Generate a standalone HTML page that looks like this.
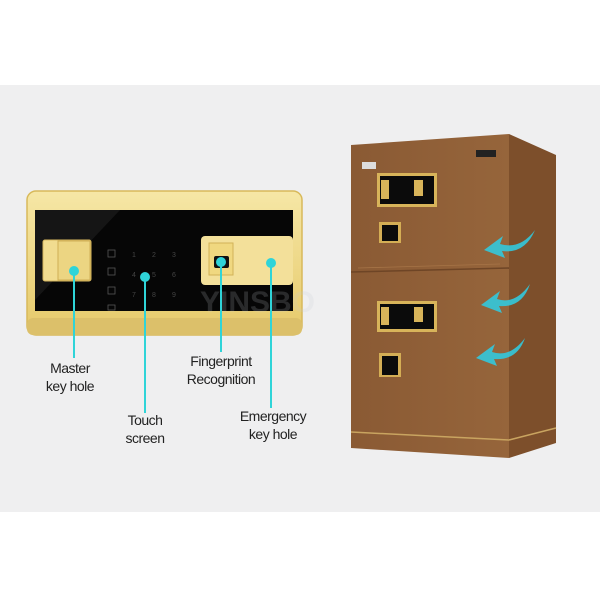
<!DOCTYPE html>
<html><head><meta charset="utf-8"><style>
html,body{margin:0;padding:0;background:#fff;width:600px;height:600px;overflow:hidden}
svg{display:block}
text{font-family:"Liberation Sans",sans-serif}
</style></head><body>
<svg width="600" height="600" viewBox="0 0 600 600">
<defs>
<linearGradient id="gold" x1="0" y1="0" x2="0" y2="1">
<stop offset="0" stop-color="#f6e7a6"/><stop offset="1" stop-color="#e6c96a"/></linearGradient>
<linearGradient id="front" x1="0" y1="0" x2="1" y2="0">
<stop offset="0" stop-color="#8a5a34"/><stop offset="1" stop-color="#96653b"/></linearGradient>
</defs>
<rect x="0" y="85" width="600" height="427" fill="#efeff0"/>
<!-- panel -->
<rect x="27" y="191" width="275" height="144" rx="9" fill="url(#gold)" stroke="#d8b95a" stroke-width="1.5"/>
<rect x="27" y="318" width="275" height="17" rx="6" fill="#dcc06a"/>
<rect x="35" y="210" width="258" height="101" fill="#060606"/>
<path d="M35 210 L120 210 L35 300 Z" fill="#151515"/>
<rect x="201" y="236" width="92" height="49" rx="4" fill="#f3e09a"/>
<rect x="43" y="240" width="48" height="41" rx="2" fill="#f1dc90" stroke="#d7b860"/>
<rect x="58" y="241" width="32" height="39" fill="#ecd582" stroke="#cfae55"/>
<rect x="209" y="243" width="24" height="32" fill="#f0d880" stroke="#d2b258"/>
<rect x="214" y="256" width="15" height="12" rx="2" fill="#111"/>
<g fill="#444" font-size="7">
<text x="132" y="257">1</text><text x="152" y="257">2</text><text x="172" y="257">3</text>
<text x="132" y="277">4</text><text x="152" y="277">5</text><text x="172" y="277">6</text>
<text x="132" y="297">7</text><text x="152" y="297">8</text><text x="172" y="297">9</text>
</g>
<g fill="none" stroke="#555" stroke-width="0.8">
<rect x="108" y="250" width="7" height="7"/><rect x="108" y="268" width="7" height="7"/><rect x="108" y="287" width="7" height="7"/><rect x="108" y="305" width="7" height="5"/></g>
<text x="200" y="312" font-size="30" fill="#c8cbd3" opacity="0.18" font-weight="bold">YINSBO</text>
<!-- callouts -->
<g stroke="#2fd4d8" stroke-width="2">
<line x1="74" y1="271" x2="74" y2="358"/><line x1="145" y1="277" x2="145" y2="413"/>
<line x1="221" y1="262" x2="221" y2="352"/><line x1="271" y1="263" x2="271" y2="408"/></g>
<g fill="#2fd4d8"><circle cx="74" cy="271" r="5"/><circle cx="145" cy="277" r="5"/><circle cx="221" cy="262" r="5"/><circle cx="271" cy="263" r="5"/></g>
<g font-size="14" fill="#222" text-anchor="middle" letter-spacing="-0.5">
<text x="70" y="373">Master</text><text x="70" y="391">key hole</text>
<text x="145" y="425">Touch</text><text x="145" y="443">screen</text>
<text x="221" y="366">Fingerprint</text><text x="221" y="384">Recognition</text>
<text x="273" y="421">Emergency</text><text x="273" y="439">key hole</text></g>
<!-- safe -->
<polygon points="509,134 556,155 556,443 509,458" fill="#7d4f2b"/>
<polygon points="351,145 509,134 509,458 351,448" fill="url(#front)"/>
<line x1="351" y1="272" x2="509" y2="268" stroke="#6e4526" stroke-width="1.5"/>
<line x1="358" y1="268" x2="500" y2="264" stroke="#a67447" stroke-width="0.8"/>
<line x1="351" y1="432" x2="509" y2="440" stroke="#c9a460" stroke-width="1.5"/>
<line x1="509" y1="440" x2="556" y2="428" stroke="#c9a460" stroke-width="1.5"/>
<rect x="362" y="162" width="14" height="7" fill="#ddd"/>
<rect x="476" y="150" width="20" height="7" fill="#222"/>
<rect x="377" y="173" width="60" height="34" fill="#d8b45a"/><rect x="380" y="176" width="54" height="28" fill="#0b0b0b"/>
<rect x="381" y="180" width="8" height="19" fill="#d8b45a"/><rect x="414" y="180" width="9" height="16" fill="#d8b45a"/>
<rect x="379" y="222" width="22" height="21" fill="#d4ae55"/><rect x="382" y="225" width="16" height="16" fill="#0b0b0b"/>
<rect x="377" y="301" width="60" height="31" fill="#d8b45a"/><rect x="380" y="304" width="54" height="25" fill="#0b0b0b"/>
<rect x="381" y="307" width="8" height="18" fill="#d8b45a"/><rect x="414" y="307" width="9" height="15" fill="#d8b45a"/>
<rect x="379" y="353" width="22" height="24" fill="#d4ae55"/><rect x="382" y="356" width="16" height="19" fill="#0b0b0b"/>
<!-- arrows -->
<g fill="#33c8dc" opacity="0.9">
<path d="M535 230 Q520 250 500 244 L503 236 L484 250 L505 258 L502 251 Q525 254 535 230 Z"/>
<path d="M530 284 Q515 305 497 299 L500 291 L481 305 L502 313 L499 306 Q522 308 530 284 Z"/>
<path d="M525 338 Q510 358 492 352 L495 344 L476 358 L497 366 L494 359 Q517 361 525 338 Z"/>
</g>
</svg>
</body></html>
